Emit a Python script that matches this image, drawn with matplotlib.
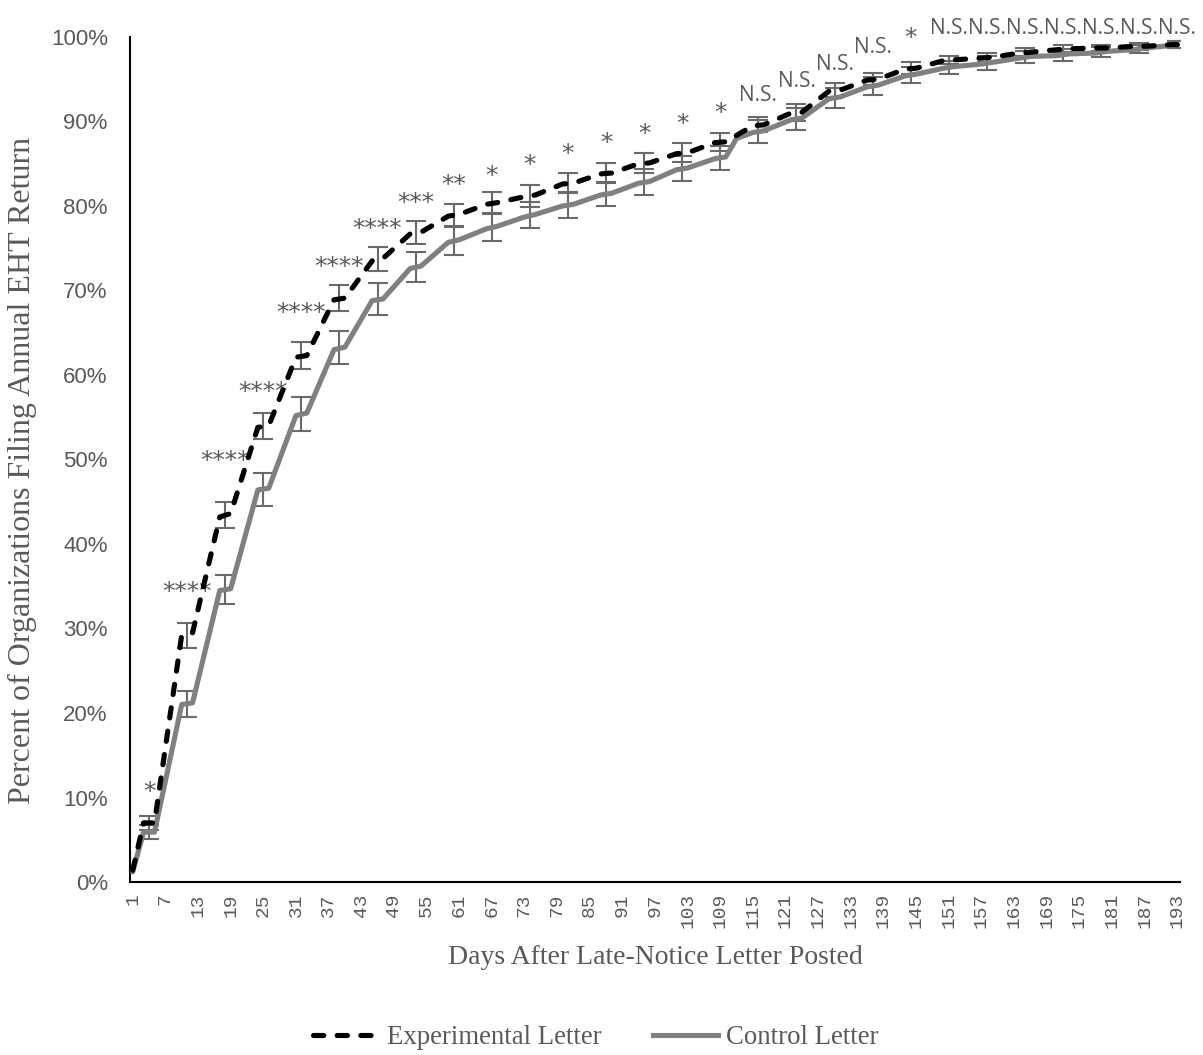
import numpy as np
import matplotlib
matplotlib.use("Agg")
import matplotlib.pyplot as plt
from matplotlib.lines import Line2D
from matplotlib.transforms import offset_copy

# Days where error bars / significance labels are shown
bar_days = [4, 11, 18, 25, 32, 39, 46, 53, 60, 67, 74, 81, 88, 95, 102, 109,
            116, 123, 130, 137, 144, 151, 158, 165, 172, 179, 186, 193]

exp_bar_pct = [7.0, 29.2, 43.4, 54.0, 62.3, 69.1, 73.7, 76.9, 78.9, 80.3, 81.2, 82.7,
               83.9, 85.1, 86.3, 87.6, 89.6, 91.1, 93.7, 95.0, 96.3, 97.3, 97.6, 98.2,
               98.6, 98.7, 98.9, 99.1]
exp_err = [0.8, 1.45, 1.55, 1.55, 1.55, 1.5, 1.4, 1.35, 1.35, 1.3, 1.3, 1.2,
           1.2, 1.15, 1.1, 1.05, 0.9, 1.0, 0.8, 0.7, 0.7, 0.5, 0.5, 0.5,
           0.4, 0.4, 0.4, 0.4]

ctrl_bar_pct = [5.9, 21.1, 34.6, 46.5, 55.4, 63.2, 69.0, 72.8, 75.9, 77.5, 78.9, 80.1,
                81.4, 82.8, 84.4, 85.7, 88.8, 90.3, 92.8, 94.2, 95.5, 96.4, 96.9, 97.6,
                97.9, 98.2, 98.6, 99.1]
ctrl_err = [0.8, 1.55, 1.7, 1.95, 2.0, 1.95, 1.9, 1.8, 1.7, 1.65, 1.55, 1.55,
            1.45, 1.55, 1.5, 1.45, 1.4, 1.3, 1.2, 1.1, 0.9, 0.8, 0.8, 0.7,
            0.7, 0.6, 0.5, 0.4]

sig_labels = ["*", "****", "****", "****", "****", "****", "****", "***", "**", "*",
              "*", "*", "*", "*", "*", "*", "N.S.", "N.S.", "N.S.", "N.S.", "*",
              "N.S.", "N.S.", "N.S.", "N.S.", "N.S.", "N.S.", "N.S."]
sig_label_pct = [11.1, 34.8, 50.3, 58.5, 67.8, 73.3, 77.8, 80.8, 83.0, 84.0,
                 85.3, 86.6, 87.9, 89.0, 90.2, 91.5, 93.1, 94.7, 96.7, 98.8, 100.4,
                 101.0, 101.0, 101.0, 101.0, 101.0, 101.0, 101.0]

# Line vertices (cumulative % filed by day)
exp_days = [1, 3, 5, 10, 12, 17, 19, 24, 26, 31, 33, 38, 40, 45, 47, 52, 54, 59, 61,
            66, 68, 73, 75, 80, 82, 87, 89, 94, 96, 101, 103, 108, 110, 115, 117,
            122, 124, 129, 131, 136, 138, 143, 145, 150, 152, 157, 159, 164, 166,
            171, 173, 178, 180, 185, 187, 192, 193]
exp_pct = [1.4, 7.0, 7.0, 29.2, 29.5, 43.2, 43.6, 53.8, 54.0, 62.1, 62.3, 68.9, 69.1,
           73.5, 73.8, 76.7, 76.9, 78.8, 79.0, 80.2, 80.4, 81.1, 81.3, 82.6, 82.7,
           83.8, 83.9, 85.0, 85.1, 86.2, 86.3, 87.5, 87.6, 89.5, 89.6, 91.0, 91.1,
           93.6, 93.7, 94.9, 95.0, 96.2, 96.3, 97.2, 97.3, 97.5, 97.6, 98.1, 98.2,
           98.5, 98.6, 98.7, 98.7, 98.9, 98.9, 99.1, 99.1]

ctrl_days = [1, 3, 5, 10, 12, 17, 19, 24, 26, 31, 33, 38, 40, 45, 47, 52, 54, 59, 61,
             66, 68, 73, 75, 80, 82, 87, 89, 94, 96, 101, 103, 108, 110, 112, 115, 117,
             122, 124, 129, 131, 136, 138, 143, 145, 150, 152, 157, 159, 164, 166,
             171, 173, 178, 180, 185, 187, 192, 193]
ctrl_pct = [1.2, 5.9, 5.9, 21.0, 21.2, 34.5, 34.7, 46.4, 46.6, 55.2, 55.5, 63.0, 63.3,
            68.8, 69.0, 72.6, 72.9, 75.7, 76.0, 77.3, 77.6, 78.7, 79.0, 80.0, 80.2,
            81.3, 81.5, 82.7, 82.9, 84.3, 84.5, 85.6, 85.8, 88.0, 88.7, 88.9, 90.2, 90.4,
            92.7, 92.9, 94.1, 94.3, 95.4, 95.6, 96.3, 96.5, 96.8, 97.0, 97.5, 97.7,
            97.8, 98.0, 98.1, 98.3, 98.5, 98.7, 99.0, 99.1]

tick_days = list(range(1, 194, 6))
grey_text = "#595959"

fig = plt.figure(figsize=(12.03, 10.55), dpi=100)
ax = fig.add_axes([130 / 1203, 1 - 882 / 1055, 1050 / 1203, 845 / 1055])

# error bars
ax.errorbar(bar_days, ctrl_bar_pct, yerr=ctrl_err, fmt="none", ecolor="#6a6a6a",
            elinewidth=1.5, capsize=7, capthick=1.5, zorder=2)
ax.errorbar(bar_days, exp_bar_pct, yerr=exp_err, fmt="none", ecolor="#6a6a6a",
            elinewidth=1.5, capsize=7, capthick=1.5, zorder=2)

# lines
ax.plot(ctrl_days, ctrl_pct, color="#808080", lw=3.7, solid_capstyle="round",
        solid_joinstyle="round", zorder=3)
ax.plot(exp_days, exp_pct, color="black", lw=3.7, dashes=(2.0, 2.6),
        dash_capstyle="round", zorder=4)

# significance labels
star_tr = offset_copy(ax.transData, fig=fig, x=0, y=-4, units="dots")
for d, lab, yv in zip(bar_days, sig_labels, sig_label_pct):
    if lab == "N.S.":
        ax.text(d, yv, lab, ha="center", va="center", fontsize=15, color=grey_text,
                family="Open Sans", clip_on=False)
    else:
        ax.text(d, yv, lab, ha="center", va="center", fontsize=18, color=grey_text,
                family="DejaVu Sans", clip_on=False, transform=star_tr)

ax.set_xlim(0.5, 193.5)
ax.set_ylim(0, 100)
ax.set_yticks(np.arange(0, 101, 10))
ax.set_yticklabels([f"{v}%" for v in range(0, 101, 10)], family="Liberation Sans",
                   fontsize=16, color=grey_text)
ax.set_xticks(tick_days)
ax.set_xticklabels([str(d) for d in tick_days], rotation=90, family="Liberation Mono",
                   fontsize=14, color=grey_text)
ax.tick_params(axis="y", length=0, pad=16)
ax.tick_params(axis="x", length=0, pad=8)

for s in ["top", "right"]:
    ax.spines[s].set_visible(False)
ax.spines["left"].set_linewidth(1.5)
ax.spines["bottom"].set_linewidth(1.5)

fig.text(22 / 1203, 1 - 470 / 1055, "Percent of Organizations Filing Annual EHT Return",
         rotation=90, ha="center", va="center", family="Liberation Serif", fontsize=23,
         color=grey_text)
fig.text(655 / 1203, 1 - 957 / 1055, "Days After Late-Notice Letter Posted",
         ha="center", va="center", family="Liberation Serif", fontsize=20, color=grey_text)

handles = [Line2D([], [], color="black", lw=3.7, dashes=(2.0, 2.6), dash_capstyle="round"),
           Line2D([], [], color="#808080", lw=3.7)]
leg = fig.legend(handles, ["Experimental Letter", "Control Letter"], loc="center",
                 bbox_to_anchor=(596 / 1203, 1 - 1038 / 1055), ncol=2, frameon=False,
                 handlelength=2.45, handletextpad=0.3, columnspacing=1.9,
                 prop={"family": "Liberation Serif", "size": 19.3})
for t in leg.get_texts():
    t.set_color(grey_text)

plt.savefig("out.png", dpi=100)
